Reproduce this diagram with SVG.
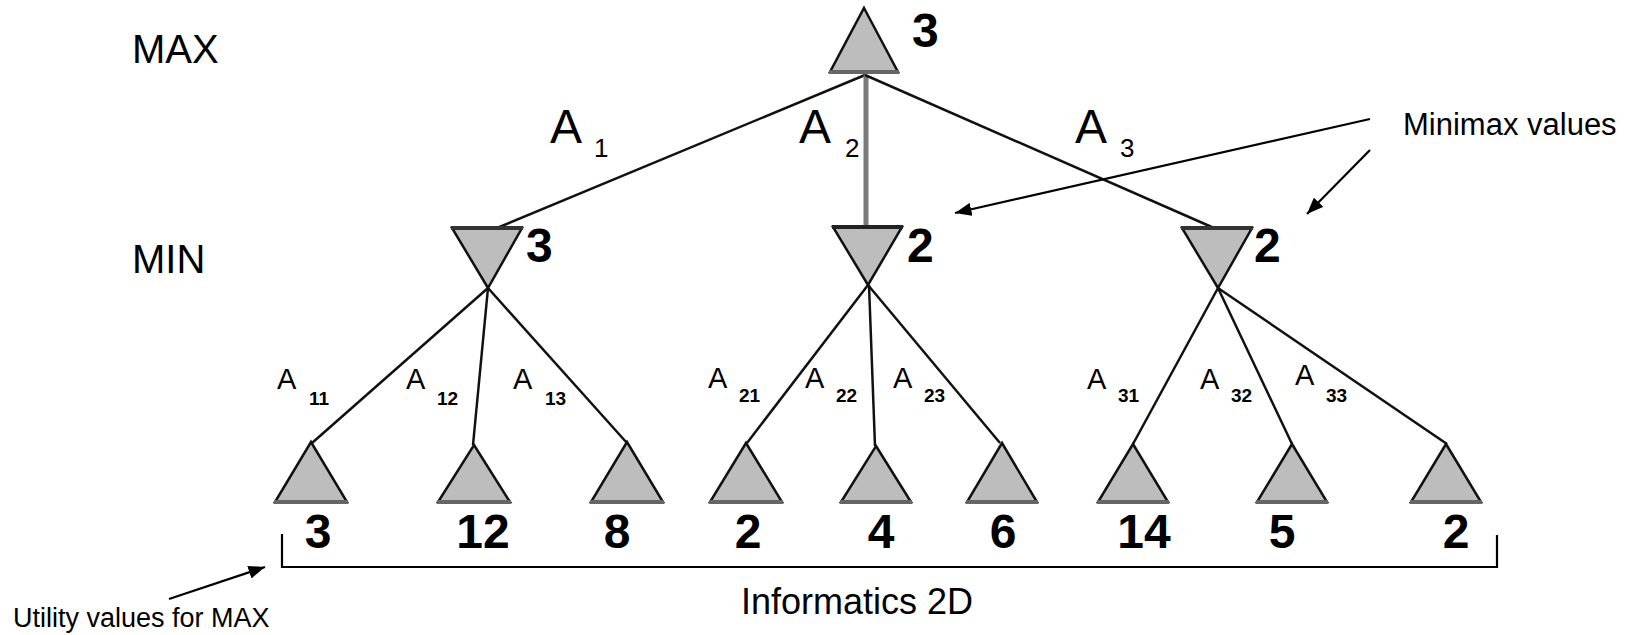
<svg xmlns="http://www.w3.org/2000/svg" width="1632" height="635" viewBox="0 0 1632 635">
<style>
.tri{fill:#bdbdbd;stroke:#111;stroke-width:2.5;stroke-linejoin:miter}
.base{stroke:#666;stroke-width:4}
.edge{stroke:#111;stroke-width:2.5;fill:none}
.val{font-family:"Liberation Sans",Arial,sans-serif;font-weight:bold;font-size:48px;fill:#000}
.lvl{font-family:"Liberation Sans",Arial,sans-serif;font-size:40px;fill:#000}
.A{font-family:"Liberation Sans",Arial,sans-serif;font-size:48px;fill:#000}
.sub{font-family:"Liberation Sans",Arial,sans-serif;font-size:26px;fill:#000}
.a{font-family:"Liberation Sans",Arial,sans-serif;font-size:29px;fill:#000}
.s{font-family:"Liberation Sans",Arial,sans-serif;font-weight:bold;font-size:19px;fill:#000}
.note{font-family:"Liberation Sans",Arial,sans-serif;fill:#000}
.arr{stroke:#000;stroke-width:2.2;fill:none}
</style>
<defs>
<marker id="ah" viewBox="0 0 10 8" refX="10" refY="4" markerWidth="7.5" markerHeight="6" orient="auto" markerUnits="strokeWidth">
<path d="M0,0 L10,4 L0,8 z" fill="#000"/>
</marker>
</defs>

<g id="connectors">
<line class="edge" x1="865" y1="75" x2="497" y2="228"/>
<line x1="866" y1="75" x2="866" y2="227" stroke="#7a7a7a" stroke-width="5"/>
<line class="edge" x1="865" y1="75" x2="1214" y2="228"/>
<line class="edge" x1="488" y1="288" x2="312" y2="443"/>
<line class="edge" x1="488" y1="288" x2="473" y2="445"/>
<line class="edge" x1="488" y1="288" x2="627" y2="443"/>
<line class="edge" x1="868" y1="285" x2="747" y2="443"/>
<line class="edge" x1="869" y1="285" x2="875" y2="446"/>
<line class="edge" x1="868" y1="285" x2="1000" y2="443"/>
<line class="edge" x1="1218" y1="288" x2="1133" y2="444"/>
<line class="edge" x1="1218" y1="288" x2="1292" y2="444"/>
<line class="edge" x1="1218" y1="288" x2="1447" y2="444"/>
</g>

<g id="labels-levels">
<text class="lvl" x="132" y="63">MAX</text>
<text class="lvl" x="132" y="273">MIN</text>
</g>

<g id="edge-labels">
<text class="A" x="550" y="143">A</text><text class="sub" x="594" y="157">1</text>
<text class="A" x="799" y="143">A</text><text class="sub" x="845" y="157">2</text>
<text class="A" x="1075" y="143">A</text><text class="sub" x="1120" y="157">3</text>
<text class="a" x="277" y="389">A</text><text class="s" x="309" y="405">11</text>
<text class="a" x="406" y="389">A</text><text class="s" x="437" y="405">12</text>
<text class="a" x="513" y="389">A</text><text class="s" x="545" y="405">13</text>
<text class="a" x="708" y="388">A</text><text class="s" x="739" y="402">21</text>
<text class="a" x="805" y="388">A</text><text class="s" x="836" y="402">22</text>
<text class="a" x="893" y="388">A</text><text class="s" x="924" y="402">23</text>
<text class="a" x="1087" y="389">A</text><text class="s" x="1118" y="402">31</text>
<text class="a" x="1200" y="389">A</text><text class="s" x="1231" y="402">32</text>
<text class="a" x="1295" y="385">A</text><text class="s" x="1326" y="402">33</text>
</g>

<g id="root">
<polygon class="tri" points="864,8 898,72 830,72"/>
<line class="base" x1="829" y1="72" x2="899" y2="72"/>
<text class="val" x="912" y="47">3</text>
</g>

<g id="min1">
<polygon class="tri" points="452,228 522,228 488,288"/>
<line x1="451" y1="228" x2="523" y2="228" stroke="#333" stroke-width="4"/>
<text class="val" x="526" y="262">3</text>
</g>
<g id="min2">
<polygon class="tri" points="833,227 902,227 868,285"/>
<line x1="832" y1="227" x2="903" y2="227" stroke="#222" stroke-width="4"/>
<text class="val" x="907" y="262">2</text>
</g>
<g id="min3">
<polygon class="tri" points="1182,228 1252,228 1218,288"/>
<line x1="1181" y1="228" x2="1253" y2="228" stroke="#333" stroke-width="4"/>
<text class="val" x="1254" y="262">2</text>
</g>

<g id="leaf1"><polygon class="tri" points="311,442 347,502 275,502"/><line class="base" x1="274" y1="502" x2="348" y2="502"/><text class="val" x="318" y="548" text-anchor="middle">3</text></g>
<g id="leaf2"><polygon class="tri" points="474,445 510,502 438,502"/><line class="base" x1="437" y1="502" x2="511" y2="502"/><text class="val" x="483" y="548" text-anchor="middle">12</text></g>
<g id="leaf3"><polygon class="tri" points="627,442 663,502 591,502"/><line class="base" x1="590" y1="502" x2="664" y2="502"/><text class="val" x="617" y="548" text-anchor="middle">8</text></g>
<g id="leaf4"><polygon class="tri" points="746,443 782,502 710,502"/><line class="base" x1="709" y1="502" x2="783" y2="502"/><text class="val" x="748" y="548" text-anchor="middle">2</text></g>
<g id="leaf5"><polygon class="tri" points="876,446 911,502 841,502"/><line class="base" x1="840" y1="502" x2="912" y2="502"/><text class="val" x="881" y="548" text-anchor="middle">4</text></g>
<g id="leaf6"><polygon class="tri" points="1002,443 1037,502 967,502"/><line class="base" x1="966" y1="502" x2="1038" y2="502"/><text class="val" x="1003" y="548" text-anchor="middle">6</text></g>
<g id="leaf7"><polygon class="tri" points="1133,444 1168,502 1098,502"/><line class="base" x1="1097" y1="502" x2="1169" y2="502"/><text class="val" x="1144" y="548" text-anchor="middle">14</text></g>
<g id="leaf8"><polygon class="tri" points="1292,444 1327,502 1257,502"/><line class="base" x1="1256" y1="502" x2="1328" y2="502"/><text class="val" x="1282" y="548" text-anchor="middle">5</text></g>
<g id="leaf9"><polygon class="tri" points="1446,444 1481,502 1411,502"/><line class="base" x1="1410" y1="502" x2="1482" y2="502"/><text class="val" x="1456" y="548" text-anchor="middle">2</text></g>

<g id="bracket">
<polyline points="282,534 282,567 1497,567 1497,535" fill="none" stroke="#000" stroke-width="2.2"/>
<text class="note" x="857" y="614" font-size="36" text-anchor="middle">Informatics 2D</text>
</g>

<g id="annotations">
<text class="note" x="1403" y="135" font-size="31">Minimax values</text>
<line class="arr" x1="1370" y1="119" x2="955" y2="213" marker-end="url(#ah)"/>
<line class="arr" x1="1370" y1="150" x2="1307" y2="214" marker-end="url(#ah)"/>
<text class="note" x="13" y="627" font-size="27">Utility values for MAX</text>
<line class="arr" x1="169" y1="599" x2="265" y2="567" marker-end="url(#ah)"/>
</g>
</svg>
